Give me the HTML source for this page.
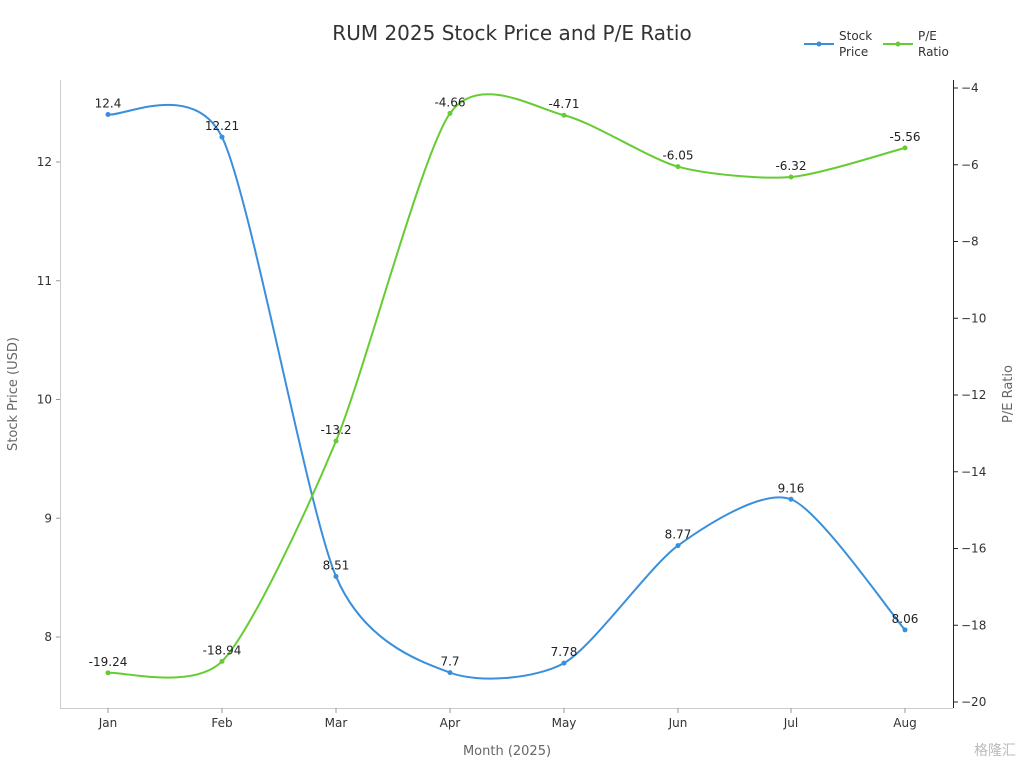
<!DOCTYPE html>
<html><head><meta charset="utf-8"><style>
body{margin:0;background:#fff;}
svg{display:block;font-family:"DejaVu Sans","Liberation Sans",sans-serif;}
</style></head><body>
<svg id="s" width="1024" height="768" xmlns="http://www.w3.org/2000/svg">
<text x="512" y="40" text-anchor="middle" font-size="20" fill="#333">RUM 2025 Stock Price and P/E Ratio</text>
<g stroke="#ccc" stroke-width="1" fill="none">
<line x1="60.5" y1="80" x2="60.5" y2="708"/>
<line x1="60" y1="708.5" x2="953" y2="708.5"/>
</g>
<line x1="953.5" y1="80" x2="953.5" y2="708" stroke="#222"/>
<g id="g"></g>
<text x="17" y="394" transform="rotate(-90 17 394)" text-anchor="middle" font-size="13" fill="#666">Stock Price (USD)</text>
<text x="1012" y="394" transform="rotate(-90 1012 394)" text-anchor="middle" font-size="13" fill="#666">P/E Ratio</text>
<text x="507" y="755" text-anchor="middle" font-size="13" fill="#666">Month (2025)</text>
<line x1="804" y1="44" x2="834" y2="44" stroke="#3a8fdd" stroke-width="2"/><circle cx="819" cy="44" r="2.5" fill="#3a8fdd"/>
<text x="839" y="40" font-size="12" fill="#333">Stock</text><text x="839" y="56" font-size="12" fill="#333">Price</text>
<line x1="883" y1="44" x2="913" y2="44" stroke="#66cc33" stroke-width="2"/><circle cx="898" cy="44" r="2.5" fill="#66cc33"/>
<text x="918" y="40" font-size="12" fill="#333">P/E</text><text x="918" y="56" font-size="12" fill="#333">Ratio</text>
<text x="1016" y="755" text-anchor="end" font-size="14" fill="#bbb" font-family="Noto Sans CJK SC,sans-serif">格隆汇</text>
</svg>
<script>
var g=document.getElementById('g'),h='';
var xs=[108,222,336,450,564,678,791,905],ms=['Jan','Feb','Mar','Apr','May','Jun','Jul','Aug'];
var sp=[12.4,12.21,8.51,7.7,7.78,8.77,9.16,8.06],pe=[-19.24,-18.94,-13.2,-4.66,-4.71,-6.05,-6.32,-5.56];
function yl(v){return 637-(v-8)*118.75}function yr(p){return 88+(-4-p)*38.375}
for(var v=8;v<=12;v++){var y=yl(v);h+='<line x1="56" x2="60" y1="'+y+'" y2="'+y+'" stroke="#999"/><text x="52" y="'+(y+4)+'" text-anchor="end" font-size="12" fill="#333">'+v+'</text>';}
for(var p=-4;p>=-20;p-=2){var y=yr(p);h+='<line x1="953" x2="958" y1="'+y+'" y2="'+y+'" stroke="#222"/><text x="961" y="'+(y+4)+'" font-size="12" fill="#333">\u2212'+(-p)+'</text>';}
xs.forEach(function(x,i){h+='<line x1="'+x+'" x2="'+x+'" y1="708" y2="713" stroke="#999"/><text x="'+x+'" y="727" text-anchor="middle" font-size="12" fill="#333">'+ms[i]+'</text>';});
var K=0.75;
function path(P,c){var d='M'+P[0][0]+','+P[0][1];for(var i=0;i<P.length-1;i++){var a=P[i-1]||P[i],b=P[i],n=P[i+1],m=P[i+2]||n;
d+=' C'+(b[0]+K*(n[0]-a[0])/6)+','+(b[1]+K*(n[1]-a[1])/6)+' '+(n[0]-K*(m[0]-b[0])/6)+','+(n[1]-K*(m[1]-b[1])/6)+' '+n[0]+','+n[1];}
return '<path d="'+d+'" fill="none" stroke="'+c+'" stroke-width="2"/>';}
var A=xs.map(function(x,i){return [x,yl(sp[i])]}),B=xs.map(function(x,i){return [x,yr(pe[i])]});
h+=path(A,'#3a8fdd')+path(B,'#66cc33');
A.forEach(function(q,i){h+='<circle cx="'+q[0]+'" cy="'+q[1]+'" r="2.5" fill="#3a8fdd"/><text x="'+q[0]+'" y="'+(q[1]-7)+'" text-anchor="middle" font-size="12" fill="#222">'+sp[i]+'</text>';});
B.forEach(function(q,i){h+='<circle cx="'+q[0]+'" cy="'+q[1]+'" r="2.5" fill="#66cc33"/><text x="'+q[0]+'" y="'+(q[1]-7)+'" text-anchor="middle" font-size="12" fill="#222">'+pe[i]+'</text>';});
g.innerHTML=h;
</script>
</body></html>
